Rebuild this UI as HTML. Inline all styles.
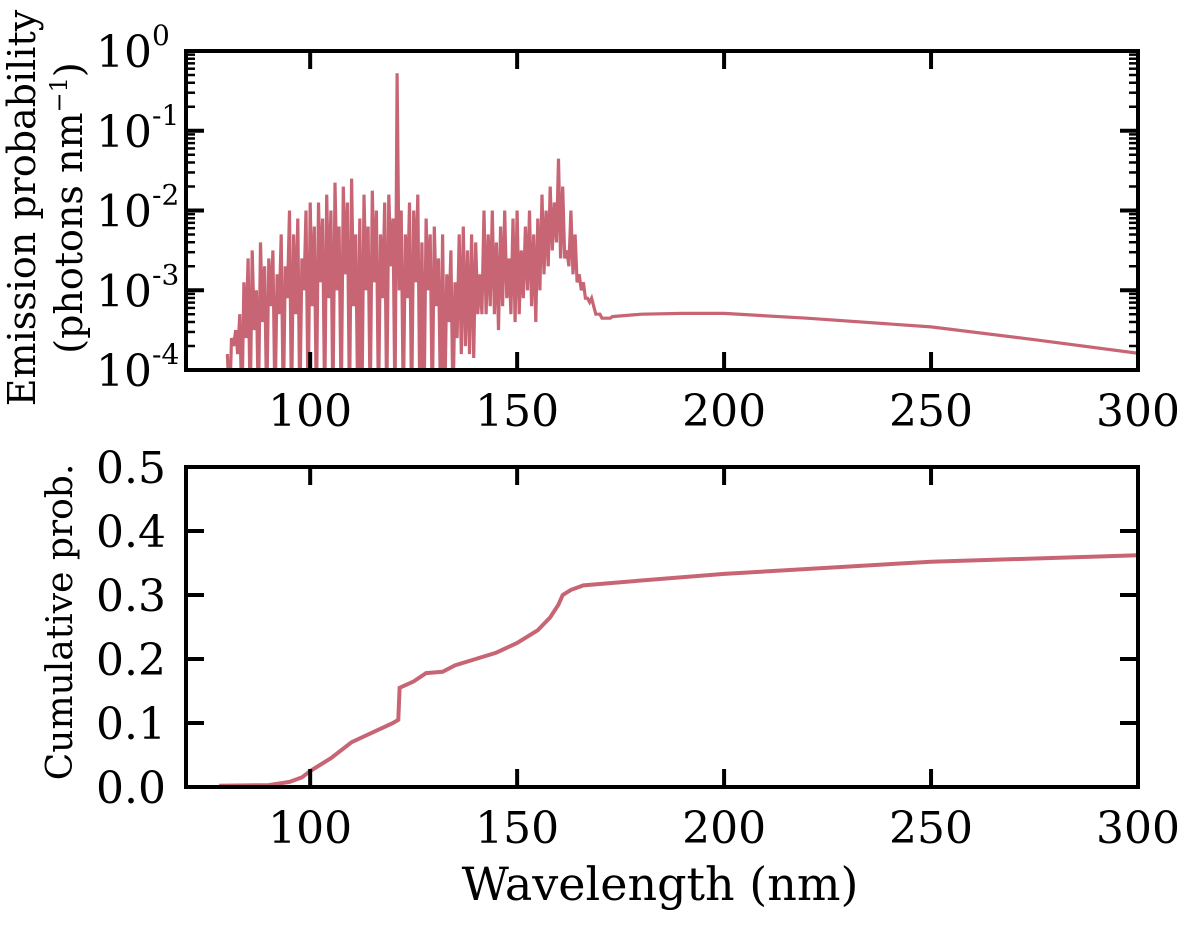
<!DOCTYPE html>
<html><head><meta charset="utf-8"><style>
html,body{margin:0;padding:0;background:#fff}
svg{display:block}
text{font-family:"DejaVu Serif","Liberation Serif",serif;fill:#000}
</style></head><body>
<svg id="chart" width="1200" height="933" viewBox="0 0 1200 933" xmlns="http://www.w3.org/2000/svg">
<defs>
<clipPath id="clipTop"><rect x="186" y="51" width="952" height="319"/></clipPath>
<clipPath id="clipBot"><rect x="186" y="467" width="952" height="320"/></clipPath>
</defs>
<g id="gtop"></g>
<g id="gbot"></g>
<text transform="translate(35,208) rotate(-90)" text-anchor="middle" font-size="38">Emission probability</text>
<text transform="translate(82,208) rotate(-90)" text-anchor="middle" font-size="38">(photons nm<tspan font-size="24" dy="-15">−1</tspan><tspan dy="15">)</tspan></text>
<text transform="translate(72,622) rotate(-90)" text-anchor="middle" font-size="36">Cumulative prob.</text>
<text x="660" y="900" text-anchor="middle" font-size="46">Wavelength (nm)</text>
</svg>
<script>
// ---- data ----
const peakWl = [80,81,82,83,84,85,86,87,88,89,90,91,92,93,94,95,96,97,98,99,100,101,102,103,104,105,106,107,108,109,110,111,112,113,114,115,116,117,118,119,120,121,122,123,124,125,126,127,128,129,130,131,132,133,134,135,136,137,138,139,140,141,142,143,144,145,146,147,148,149,150,151,152,153,154,155,156,157,158,159,160,161,162,163,164,165,166,167,168,169,170,171,172];
const peakLog = [-3.8,-3.6,-3.5,-3.3,-2.9,-2.6,-2.5,-3.0,-2.4,-2.7,-2.6,-2.5,-2.8,-2.3,-2.7,-2.0,-2.3,-2.1,-2.6,-2.0,-1.9,-2.2,-1.9,-2.1,-1.8,-2.0,-1.65,-2.2,-1.7,-1.9,-1.6,-2.3,-2.1,-1.8,-2.2,-1.75,-2.0,-2.3,-1.9,-1.8,-2.1,-0.28,-2.0,-2.3,-1.9,-2.0,-1.8,-2.4,-2.1,-2.3,-2.2,-2.6,-2.3,-2.8,-2.5,-2.9,-2.3,-2.2,-2.5,-2.3,-2.4,-2.8,-2.0,-2.3,-2.0,-2.4,-2.2,-2.0,-2.6,-2.1,-2.0,-2.5,-2.2,-2.0,-2.3,-2.1,-1.8,-2.0,-1.7,-1.9,-1.35,-1.7,-2.5,-2.0,-2.3,-2.8,-2.9,-3.1,-3.1,-3.3,-3.3,-3.35,-3.35];
const troughLog = [-4.5,-3.7,-3.8,-4.5,-3.6,-4.5,-3.5,-4.5,-3.4,-4.5,-3.2,-4.5,-3.3,-4.5,-3.1,-4.5,-3.3,-4.5,-3.0,-4.5,-3.2,-4.5,-2.9,-4.5,-3.1,-4.5,-3.0,-4.5,-2.8,-4.5,-3.2,-4.5,-4.5,-3.0,-4.5,-2.9,-4.5,-3.1,-4.5,-2.7,-4.5,-3.0,-4.5,-3.1,-4.5,-2.9,-4.5,-4.5,-3.0,-4.5,-3.2,-4.5,-4.5,-3.4,-4.5,-3.6,-3.8,-3.7,-3.8,-3.85,-3.3,-3.3,-3.3,-3.2,-3.3,-3.5,-3.2,-3.1,-3.3,-3.4,-3.3,-3.1,-3.0,-3.2,-3.4,-3.0,-2.8,-2.7,-2.5,-2.4,-2.6,-2.6,-2.7,-2.8,-2.9,-3.0,-3.1,-3.15,-3.2,-3.3,-3.35,-3.35,-3.35];
const tailWl = [173,180,190,200,220,250,275,300];
const tailLog = [-3.33,-3.30,-3.29,-3.29,-3.35,-3.46,-3.62,-3.79];
const cumWl = [78,90,95,98,100,105,110,115,120,121.3,121.6,125,128,132,135,140,145,150,155,158,160,161,163,166,175,200,250,300];
const cumVal = [0.002,0.003,0.008,0.015,0.025,0.045,0.07,0.085,0.1,0.105,0.155,0.165,0.178,0.18,0.19,0.2,0.21,0.225,0.245,0.265,0.285,0.3,0.308,0.315,0.32,0.333,0.352,0.362];
const xTicks = [100,150,200,250,300];
const topTicks = [0,-1,-2,-3,-4];
const botTicks = [0.0,0.1,0.2,0.3,0.4,0.5];

// ---- scales ----
const X0=186,X1=1138;
const xs = w => X0 + (w-70)/(300-70)*(X1-X0);
const yTop = l => 51 + (0-l)/4*(370-51);
const yBot = v => 787 - v/0.5*(787-467);
const NS="http://www.w3.org/2000/svg";
function mk(parent,tag,attrs){const e=document.createElementNS(NS,tag);for(const k in attrs)e.setAttribute(k,attrs[k]);parent.appendChild(e);return e;}
const gTop=document.getElementById('gtop'), gBot=document.getElementById('gbot');
const col="#c86574";

// top series
let d="";
peakWl.forEach((w,i)=>{d+=(i?"L":"M")+xs(w).toFixed(1)+","+yTop(peakLog[i]).toFixed(1)+"L"+xs(w+0.5).toFixed(1)+","+yTop(troughLog[i]).toFixed(1);});
tailWl.forEach((w,i)=>{d+="L"+xs(w).toFixed(1)+","+yTop(tailLog[i]).toFixed(1);});
const p1=mk(gTop,"path",{d:d,fill:"none",stroke:col,"stroke-width":3.2,"stroke-linejoin":"miter","clip-path":"url(#clipTop)"});



// bottom series
let d2="";
cumWl.forEach((w,i)=>{d2+=(i?"L":"M")+xs(w).toFixed(1)+","+yBot(cumVal[i]).toFixed(1);});
const p2=mk(gBot,"path",{d:d2,fill:"none",stroke:col,"stroke-width":4,"clip-path":"url(#clipBot)"});



function frame(g,y0,y1){
  const r=mk(g,"rect",{x:X0,y:y0,width:X1-X0,height:y1-y0,fill:"none",stroke:"#000","stroke-width":4});
  
  
  xTicks.forEach(t=>{
    const x=xs(t);
    mk(g,"line",{x1:x,x2:x,y1:y1,y2:y1-18,stroke:"#000","stroke-width":4});
    mk(g,"line",{x1:x,x2:x,y1:y0,y2:y0+18,stroke:"#000","stroke-width":4});
    const tx=mk(g,"text",{x:x,y:y1+56,"text-anchor":"middle","font-size":44});
    tx.textContent=t;
    
    
  });
}
frame(gTop,51,370);
frame(gBot,467,787);

// top y ticks (log)
topTicks.forEach(k=>{
  const y=yTop(k);
  mk(gTop,"line",{x1:X0,x2:X0+18,y1:y,y2:y,stroke:"#000","stroke-width":4});
  mk(gTop,"line",{x1:X1,x2:X1-18,y1:y,y2:y,stroke:"#000","stroke-width":4});
  const tx=mk(gTop,"text",{x:152,y:y+16,"text-anchor":"end","font-size":44});
  tx.textContent="10";
  
  
  const sp=mk(gTop,"text",{x:152,y:y-6,"text-anchor":"start","font-size":28});
  sp.textContent=k===0?"0":String(k);
  
  
  if(k>-4){for(let m=2;m<=9;m++){const ym=yTop(k-1+Math.log10(m));
    mk(gTop,"line",{x1:X0,x2:X0+9,y1:ym,y2:ym,stroke:"#000","stroke-width":2.5});
    mk(gTop,"line",{x1:X1,x2:X1-9,y1:ym,y2:ym,stroke:"#000","stroke-width":2.5});}}
});
// bottom y ticks
botTicks.forEach(v=>{
  const y=yBot(v);
  mk(gBot,"line",{x1:X0,x2:X0+18,y1:y,y2:y,stroke:"#000","stroke-width":4});
  mk(gBot,"line",{x1:X1,x2:X1-18,y1:y,y2:y,stroke:"#000","stroke-width":4});
  const tx=mk(gBot,"text",{x:166,y:y+16,"text-anchor":"end","font-size":44});
  tx.textContent=v.toFixed(1);
  
  
});
</script>
</body></html>
